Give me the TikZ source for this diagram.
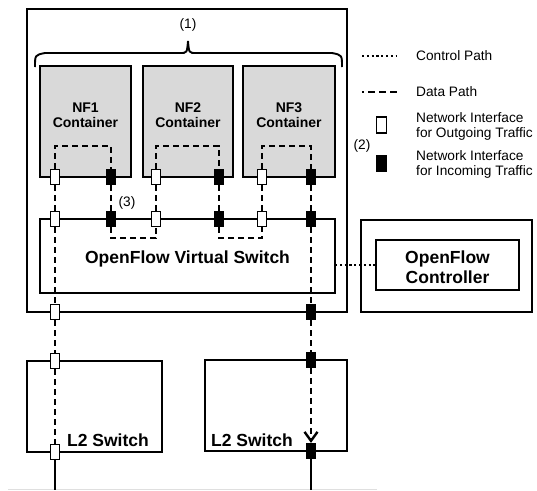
\documentclass[tikz,border=0pt]{standalone}
\usepackage{fontspec}
\setmainfont{Liberation Sans}
\usetikzlibrary{arrows.meta,calc}
\definecolor{nfgray}{RGB}{217,217,217}
\begin{document}
\begin{tikzpicture}[x=1pt,y=-1pt,
  box/.style={draw, line width=1.9pt, anchor=north west, inner sep=0pt, outer sep=0pt},
  nfbox/.style={box, fill=nfgray},
  outif/.style={draw, line width=1.2pt, fill=white, minimum width=9pt, minimum height=15pt, inner sep=0pt},
  inif/.style={outif, fill=black},
  datapath/.style={line width=2.6pt, dash pattern=on 6pt off 4pt},
  ctrlpath/.style={line width=2.6pt, dash pattern=on 2.2pt off 2.6pt},
  wire/.style={line width=2.4pt},
  boldlbl/.style={font=\bfseries\fontsize{17.5}{20}\selectfont, align=center, inner sep=0pt},
  nflbl/.style={font=\bfseries\fontsize{14}{15.5}\selectfont, align=center, inner sep=0pt},
  note/.style={font=\fontsize{13.7}{15}\selectfont, align=left, inner sep=0pt},
]
\useasboundingbox (0,0) rectangle (537,490);

% faint rule along the lower edge
\draw[line width=1pt, gray!25] (8,489) -- (377,489);

% host machine
\node[box, minimum width=320, minimum height=303] (host) at (27,9) {};

% brace over the containers
\draw[line width=1.9pt] (35,67) .. controls (35,55) .. (45,53) -- (180,53)
  .. controls (187,53) .. (188,41) .. controls (189,53) .. (196,53) -- (332,53)
  .. controls (342,55) .. (342,67);
\node[note, anchor=center] (lbl1) at (188,25) {(1)};

% NF containers
\node[nfbox, minimum width=91, minimum height=111] (nf1) at (40,66) {};
\node[nfbox, minimum width=90, minimum height=111] (nf2) at (143,66) {};
\node[nfbox, minimum width=92, minimum height=111] (nf3) at (243,66) {};
\node[nflbl] (nf1t) at ($(nf1.north)+(0,49)$) {NF1\\Container};
\node[nflbl] (nf2t) at ($(nf2.north)+(0,49)$) {NF2\\Container};
\node[nflbl] (nf3t) at ($(nf3.north)+(0,49)$) {NF3\\Container};

% virtual switch
\node[box, minimum width=295, minimum height=74] (ovs) at (40,219) {};
\node[boldlbl] (ovst) at (187.5,259) {OpenFlow Virtual Switch};

% controller
\node[box, minimum width=171, minimum height=92] (ctrlout) at (361,220) {};
\node[box, minimum width=143, minimum height=50] (ctrl) at (376,240) {};
\node[boldlbl] (ctrlt) at (447.5,267) {OpenFlow\\Controller};

% L2 switches
\node[box, minimum width=135, minimum height=91] (l2a) at (27,361) {};
\node[box, minimum width=142, minimum height=91] (l2b) at (205,360) {};
\node[boldlbl] (l2at) at (108,440) {L2 Switch};
\node[boldlbl] (l2bt) at (252,440) {L2 Switch};

% interfaces on the containers
\node[outif] (n1o) at (55,177) {};
\node[inif]  (n1i) at (111,177) {};
\node[outif] (n2o) at (156,177) {};
\node[inif]  (n2i) at (219,177) {};
\node[outif] (n3o) at (262,177) {};
\node[inif]  (n3i) at (311,177) {};
% interfaces on the virtual switch
\node[outif] (v1o) at (55,219) {};
\node[inif]  (v1i) at (111,219) {};
\node[outif] (v2o) at (156,219) {};
\node[inif]  (v2i) at (219,219) {};
\node[outif] (v3o) at (262,219) {};
\node[inif]  (v3i) at (311,219) {};
% interfaces on the host
\node[outif] (ho) at (55,312) {};
\node[inif]  (hi) at (311,312) {};
% interfaces on the L2 switches
\node[outif] (ato) at (55,361) {};
\node[outif] (abo) at (55,452) {};
\node[inif]  (bti) at (311,360) {};
\node[inif]  (bbi) at (311,451) {};

% turning points of the data path
\coordinate (t1) at (83,146);
\coordinate (t2) at (187,146);
\coordinate (t3) at (286,146);
\coordinate (b1) at (133,238);
\coordinate (b2) at (240,238);
\coordinate (endA) at (55,490);
\coordinate (endB) at (311,490);

% data path
\draw[datapath] (n1o) |- (t1) -| (n1i);
\draw[datapath] (n2o) |- (t2) -| (n2i);
\draw[datapath] (n3o) |- (t3) -| (n3i);
\draw[datapath] (n1i) -- (v1i);
\draw[datapath] (v1i) |- (b1) -| (v2o);
\draw[datapath] (v2o) -- (n2o);
\draw[datapath] (n2i) -- (v2i);
\draw[datapath] (v2i) |- (b2) -| (v3o);
\draw[datapath] (v3o) -- (n3o);
\draw[datapath] (n1o) -- (v1o);
\draw[datapath] (v1o) -- (ho);
\draw[datapath] (ho) -- (ato);
\draw[datapath] (ato) -- (abo);
\draw[wire] (abo) -- (endA);
\draw[datapath] (n3i) -- (v3i);
\draw[datapath] (v3i) -- (hi);
\draw[datapath] (hi) -- (bti);
\draw[datapath, -{Straight Barb[length=9pt,width=13pt,line width=2.4pt]}] (bti) -- (bbi);
\draw[wire] (bbi) -- (endB);

% control path
\draw[ctrlpath] (ovs.east |- ctrl.west) -- (ctrl.west);

\node[note, anchor=center] (lbl3) at (127,203) {(3)};
\node[note, anchor=center] (lbl2) at (362,146) {(2)};

% legend
\coordinate (lc1) at (362,56);
\coordinate (lc2) at (397,56);
\coordinate (ld1) at (362,92);
\coordinate (ld2) at (397,92);
\draw[ctrlpath] (lc1) -- (lc2);
\draw[line width=2.6pt, dash pattern=on 7pt off 4pt, dash phase=5pt] (ld1) -- (ld2);
\node[note, anchor=west] (lct) at (416,56) {Control Path};
\node[note, anchor=west] (ldt) at (416,92) {Data Path};
\node[outif, minimum width=10, minimum height=16] (lo) at (381.5,125) {};
\node[inif, minimum width=10, minimum height=16] (li) at (381.5,163.5) {};
\node[note, anchor=west] (lot) at (416,126.5) {Network Interface\\for Outgoing Traffic};
\node[note, anchor=west] (lit) at (416,164.5) {Network Interface\\for Incoming Traffic};
\end{tikzpicture}
\end{document}
